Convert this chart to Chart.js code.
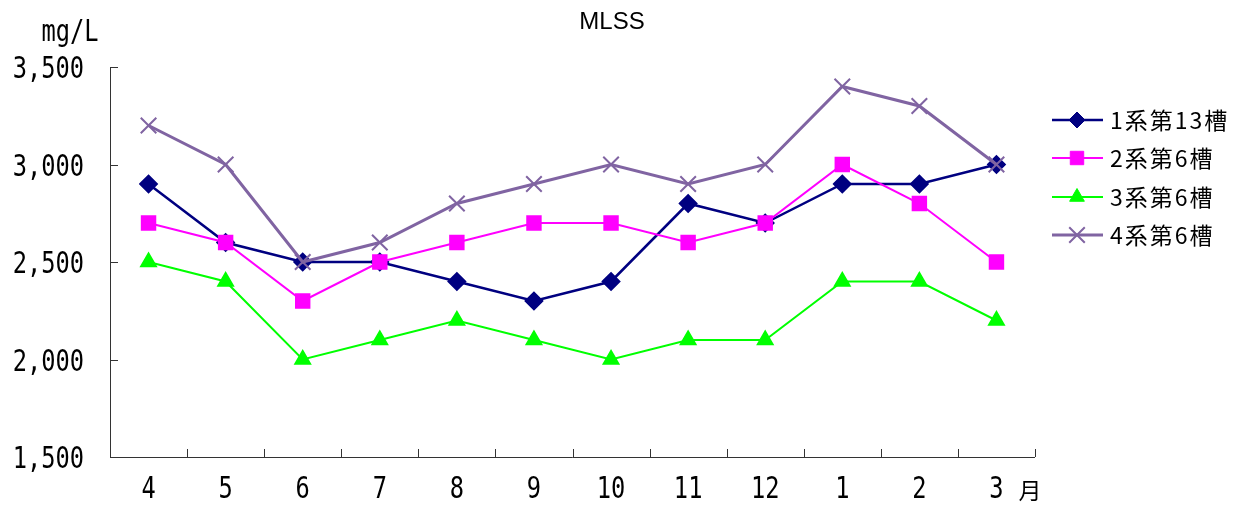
<!DOCTYPE html>
<html><head><meta charset="utf-8">
<script src="https://cdn.jsdelivr.net/npm/chart.js@4/dist/chart.umd.min.js"></script>
<style>html,body{margin:0;padding:0;background:#fff}#wrap{width:1239px;height:507px}</style>
</head><body><div id="wrap"><canvas id="c" width="1239" height="507"></canvas></div>
<script>
const categories = ['4','5','6','7','8','9','10','11','12','1','2','3'];
const seriesNames = ['1系第13槽','2系第6槽','3系第6槽','4系第6槽'];
const s1 = [2900,2600,2500,2500,2400,2300,2400,2800,2700,2900,2900,3000];
const s2 = [2700,2600,2300,2500,2600,2700,2700,2600,2700,3000,2800,2500];
const s3 = [2500,2400,2000,2100,2200,2100,2000,2100,2100,2400,2400,2200];
const s4 = [3200,3000,2500,2600,2800,2900,3000,2900,3000,3400,3300,3000];
const yTicks = [1500,2000,2500,3000,3500];
const titleText = 'MLSS';
const unitText = 'mg/L';
const monthText = '月';

const monoFont = '30px "DejaVu Sans Mono","Liberation Mono",monospace';
const SX = 0.79;
const fmt = v => v.toLocaleString('en-US');

const ds = [
  {label: seriesNames[0], data: s1, borderColor:'#000080', backgroundColor:'#000080', borderWidth:2.5, pointStyle:'rectRot', pointRadius:8, order:4},
  {label: seriesNames[1], data: s2, borderColor:'#FF00FF', backgroundColor:'#FF00FF', borderWidth:2, pointStyle:'rect', pointRadius:9.5, order:3},
  {label: seriesNames[2], data: s3, borderColor:'#00FF00', backgroundColor:'#00FF00', borderWidth:2, pointStyle:'triangle', pointRadius:8.5, order:2},
  {label: seriesNames[3], data: s4, borderColor:'#8064A2', backgroundColor:'#8064A2', borderWidth:3, pointStyle:'crossRot', pointRadius:11, pointBorderWidth:2, order:1}
].map(d => Object.assign({tension:0, fill:false, pointBorderColor:d.borderColor, pointBackgroundColor:d.backgroundColor, pointHoverRadius:d.pointRadius}, d));

function monoText(ctx, text, x, y, align){
  ctx.save();
  ctx.font = monoFont; ctx.textAlign = align; ctx.textBaseline = 'alphabetic';
  ctx.scale(SX, 1);
  ctx.fillText(text, x / SX, y);
  ctx.restore();
}

const deco = {
  id:'deco',
  afterDraw(chart){
    const ctx = chart.ctx, a = chart.chartArea;
    const xs = chart.scales.x, ys = chart.scales.y;
    ctx.save();
    ctx.strokeStyle = '#333'; ctx.lineWidth = 1;
    ctx.beginPath();
    ctx.moveTo(a.left+0.5, a.top); ctx.lineTo(a.left+0.5, a.bottom+0.5); ctx.lineTo(a.right, a.bottom+0.5);
    yTicks.forEach(v => { const y = Math.round(ys.getPixelForValue(v))+0.5; ctx.moveTo(a.left, y); ctx.lineTo(a.left+8, y); });
    const n = categories.length;
    for (let i=1;i<=n;i++){ const x = Math.round(a.left + i*(a.right-a.left)/n)+0.5; ctx.moveTo(x, a.bottom); ctx.lineTo(x, a.bottom-8); }
    ctx.stroke();
    ctx.fillStyle = '#000';
    // y tick labels
    yTicks.forEach(v => monoText(ctx, fmt(v), 84, ys.getPixelForValue(v) + 11, 'right'));
    // x tick labels
    categories.forEach((c, i) => monoText(ctx, c, xs.getPixelForValue(i), 498, 'center'));
    monoText(ctx, unitText, 70, 41, 'center');
    ctx.textAlign='center'; ctx.textBaseline='middle';
    ctx.font = '24px "Liberation Sans", Arial, sans-serif';
    ctx.fillText(titleText, 612, 22);
    ctx.font = '23px "Noto Sans CJK JP", sans-serif';
    ctx.fillText(monthText, 1030, 490);
    const rows = [120,158,197,235];
    chart.data.datasets.forEach((d,i) => {
      const y = rows[i];
      ctx.strokeStyle = d.borderColor; ctx.lineWidth = d.borderWidth;
      ctx.beginPath(); ctx.moveTo(1052, y); ctx.lineTo(1103, y); ctx.stroke();
      ctx.fillStyle = d.backgroundColor; ctx.strokeStyle = d.borderColor; ctx.lineWidth = d.pointBorderWidth || 1;
      Chart.helpers.drawPoint(ctx, {pointStyle:d.pointStyle, radius:d.pointRadius, rotation:0, borderWidth:d.pointBorderWidth||1}, 1077, y);
      ctx.fillStyle = '#000'; ctx.textAlign='left'; ctx.textBaseline='middle';
      ctx.font = '23px "Noto Sans CJK JP", sans-serif';
      ctx.letterSpacing = '2px';
      ctx.fillText(d.label, 1110, y);
      ctx.letterSpacing = '0px';
    });
    ctx.restore();
  }
};

new Chart(document.getElementById('c'), {
  type:'line',
  data:{labels:categories, datasets:ds},
  options:{
    responsive:false, animation:false, devicePixelRatio:1,
    layout:{padding:{left:0, right:204, top:67, bottom:0}},
    plugins:{legend:{display:false}, title:{display:false}, tooltip:{enabled:false}},
    scales:{
      x:{type:'category', offset:true, border:{display:false},
         grid:{display:false, offset:true},
         ticks:{display:false},
         afterFit(s){ s.height = 50; }},
      y:{min:1500, max:3500, border:{display:false},
         grid:{display:false},
         afterBuildTicks(s){ s.ticks = yTicks.map(v => ({value:v})); },
         ticks:{display:false},
         afterFit(s){ s.width = 110; }}
    }
  },
  plugins:[deco]
});
</script></body></html>
